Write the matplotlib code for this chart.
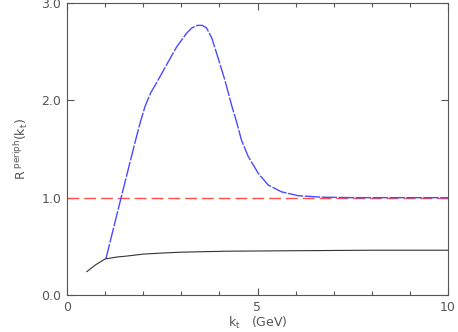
import matplotlib
matplotlib.use("Agg")
import matplotlib.pyplot as plt
from matplotlib.ticker import MultipleLocator

# dados
kt_blue = [1.02, 1.42, 1.78, 1.92, 2.05, 2.2, 2.35, 2.62, 2.88, 3.14, 3.28, 3.42, 3.55,
           3.66, 3.80, 3.97, 4.15, 4.32, 4.45, 4.58, 4.76, 5.02, 5.28, 5.63,
           6.07, 6.68, 7.5, 8.5, 10.0]
r_blue = [0.37, 1.0, 1.56, 1.77, 1.94, 2.08, 2.18, 2.37, 2.55, 2.69, 2.745, 2.77, 2.77,
          2.745, 2.64, 2.43, 2.20, 1.95, 1.78, 1.59, 1.42, 1.25, 1.13, 1.06,
          1.02, 1.005, 1.0, 1.0, 1.0]

kt_black = [0.52, 0.75, 1.0, 1.3, 1.57, 2.0, 2.44, 3.0, 4.2, 6.0, 8.0, 10.0]
r_black = [0.24, 0.31, 0.37, 0.39, 0.40, 0.42, 0.43, 0.44, 0.45, 0.455, 0.46, 0.46]

kt_ref = [0.0, 10.0]
r_ref = [1.0, 1.0]

gray = '#555555'
plt.rcParams['mathtext.fontset'] = 'dejavusans'

fig = plt.figure(figsize=(4.58, 3.32), dpi=100)
ax = fig.add_axes([67/458, 37/332, 381/458, 292/332])

ax.plot(kt_ref, r_ref, color='#ff5050', lw=1.0, dashes=(8.5, 3.6))
ax.plot(kt_blue, r_blue, color='#4a4aff', lw=1.0, dashes=(11, 1.2))
ax.plot(kt_black, r_black, color='#333333', lw=0.8)

ax.set_xlim(0, 10)
ax.set_ylim(0, 3)
ax.xaxis.set_minor_locator(MultipleLocator(1))
ax.set_xticks([0, 5, 10])
ax.set_xticklabels(['0', '5', '10'])
ax.set_yticks([0, 1, 2, 3])
ax.set_yticklabels(['0.0', '1.0', '2.0', '3.0'])
ax.tick_params(which='both', direction='in', top=True, right=True,
               colors=gray, labelsize=9, pad=4)
ax.tick_params(which='major', length=5, width=0.8)
ax.tick_params(which='minor', length=3, width=0.8)
for s in ax.spines.values():
    s.set_color(gray)
    s.set_linewidth(0.8)

ax.set_xlabel(r'$\mathrm{k_t}$   (GeV)', color=gray, fontsize=9, labelpad=1)
ax.set_ylabel(r'$\mathrm{R}^{\ \mathrm{periph}}\mathrm{(k_t)}$', color=gray,
              fontsize=9, labelpad=8)

fig.savefig('out.png', dpi=100)
